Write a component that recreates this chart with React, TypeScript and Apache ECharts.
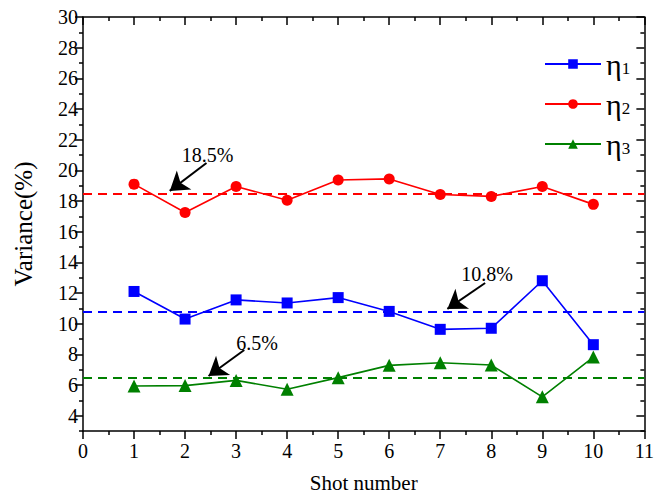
import React, { useEffect, useRef } from "react";
import * as echarts from "echarts";

const shots = [1, 2, 3, 4, 5, 6, 7, 8, 9, 10];
const eta1 = [12.1, 10.3, 11.55, 11.35, 11.7, 10.8, 9.63, 9.7, 12.8, 8.63];
const eta2 = [19.1, 17.25, 18.95, 18.05, 19.37, 19.44, 18.42, 18.3, 18.95, 17.78];
const eta3 = [5.93, 5.96, 6.3, 5.72, 6.48, 7.28, 7.45, 7.3, 5.23, 7.82];
const means = [10.8, 18.5, 6.5];
const yMajor = [4, 6, 8, 10, 12, 14, 16, 18, 20, 22, 24, 26, 28, 30];
const yMinor = [3, 5, 7, 9, 11, 13, 15, 17, 19, 21, 23, 25, 27, 29];
const names = ["η1", "η2", "η3"];
const colors = ["#0000ff", "#ff0000", "#008000"];
const symbols = ["rect", "circle", "triangle"];
// annotation: label text, label position, arrow start, arrow end (data coords)
const annotText = ["10.8%", "18.5%", "6.5%"];
const annotLabelAt = [[7.92, 13.25], [2.44, 21.0], [3.41, 8.75]];
const annotFrom = [[7.88, 12.65], [2.42, 20.48], [3.16, 8.28]];
const annotTo = [[7.14, 10.96], [1.7, 18.66], [2.46, 6.59]];

const FONT = "Liberation Serif";
const CSS =
  "body{margin:0}#eroot text,#eroot tspan{font-family:'Liberation Serif','Times New Roman',serif !important;}";

export default function App() {
  const ref = useRef<HTMLDivElement>(null);
  useEffect(() => {
    document.body.style.margin = "0";
    const chart = echarts.init(ref.current!, null, { renderer: "svg" });
    const seriesData = [eta1, eta2, eta3];
    const series = seriesData.map((d, i) => ({
      name: names[i],
      type: "line",
      data: shots.map((s, j) => [s, d[j]]),
      symbol: symbols[i],
      symbolSize: i === 2 ? 13 : 11,
      itemStyle: { color: colors[i] },
      lineStyle: { color: colors[i], width: 1.6 },
      markLine: {
        silent: true,
        animation: false,
        symbol: ["none", "arrow"],
        symbolSize: 18,
        label: { show: false },
        data: [
          [
            { xAxis: 0, yAxis: means[i], symbol: "none", lineStyle: { color: colors[i], width: 1.8, type: [9, 6] } },
            { xAxis: 11, yAxis: means[i], symbol: "none" },
          ],
          [
            { coord: annotFrom[i], symbol: "none", lineStyle: { color: "#000", width: 2, type: "solid" } },
            { coord: annotTo[i], symbol: "arrow", symbolSize: 18, itemStyle: { color: "#000" } },
          ],
        ],
      },
      markPoint: {
        silent: true,
        animation: false,
        symbol: "rect",
        symbolSize: 1,
        itemStyle: { color: "rgba(0,0,0,0)" },
        label: {
          show: true,
          position: "inside",
          color: "#000",
          fontFamily: FONT,
          fontSize: 20,
          formatter: annotText[i],
        },
        data: [{ coord: annotLabelAt[i], value: annotText[i] }],
      },
    }));

    const axisLine = { show: true, lineStyle: { color: "#000", width: 1.5 } };
    const labelStyle = { color: "#000", fontFamily: FONT, fontSize: 20 };

    chart.setOption({
      animation: false,
      backgroundColor: "#fff",
      textStyle: { fontFamily: FONT },
      grid: { left: 83, right: 10, top: 17, bottom: 69 },
      legend: {
        data: names,
        orient: "vertical",
        left: 539,
        top: 44,
        itemWidth: 56,
        itemHeight: 12,
        itemGap: 10,
        formatter: (n: string) => `{e|η}{s|${n.slice(1)}}`,
        textStyle: {
          color: "#000",
          fontFamily: FONT,
          rich: {
            e: { fontFamily: FONT, fontSize: 30, color: "#000" },
            s: { fontFamily: FONT, fontSize: 17, color: "#000", padding: [8, 0, 0, 0] },
          },
        },
      },
      xAxis: [
        {
          type: "value",
          min: 0,
          max: 11,
          interval: 1,
          position: "bottom",
          name: "Shot number",
          nameLocation: "middle",
          nameGap: 41,
          nameTextStyle: { color: "#000", fontFamily: FONT, fontSize: 21 },
          axisLine,
          axisTick: { show: true, inside: false, length: 8, lineStyle: { color: "#000", width: 1.5 } },
          minorTick: { show: true, splitNumber: 2, length: 4, lineStyle: { color: "#000", width: 1.5 } },
          axisLabel: { ...labelStyle, margin: 10 },
          splitLine: { show: false },
        },
        {
          type: "value",
          min: 0,
          max: 11,
          interval: 1,
          position: "top",
          axisLine,
          axisTick: { show: true, inside: true, length: 8, lineStyle: { color: "#000", width: 1.5 } },
          minorTick: { show: true, splitNumber: 2, length: 4, lineStyle: { color: "#000", width: 1.5 } },
          axisLabel: { show: false },
          splitLine: { show: false },
        },
      ],
      yAxis: [
        {
          type: "value",
          min: 3,
          max: 30,
          position: "left",
          name: "Variance(%)",
          nameLocation: "middle",
          nameGap: 47,
          nameTextStyle: { color: "#000", fontFamily: FONT, fontSize: 25 },
          axisLine,
          axisTick: { show: true, inside: false, length: 8, customValues: yMajor, lineStyle: { color: "#000", width: 1.5 } },
          axisLabel: { ...labelStyle, margin: 5, customValues: yMajor },
          splitLine: { show: false },
        },
        {
          type: "value",
          min: 3,
          max: 30,
          position: "left",
          axisLine: { show: false },
          axisTick: { show: true, inside: false, length: 4, customValues: yMinor, lineStyle: { color: "#000", width: 1.5 } },
          axisLabel: { show: false },
          splitLine: { show: false },
        },
        {
          type: "value",
          min: 3,
          max: 30,
          position: "right",
          axisLine,
          axisTick: { show: true, inside: true, length: 8, customValues: yMajor, lineStyle: { color: "#000", width: 1.5 } },
          axisLabel: { show: false },
          splitLine: { show: false },
        },
        {
          type: "value",
          min: 3,
          max: 30,
          position: "right",
          axisLine: { show: false },
          axisTick: { show: true, inside: true, length: 4, customValues: yMinor, lineStyle: { color: "#000", width: 1.5 } },
          axisLabel: { show: false },
          splitLine: { show: false },
        },
      ],
      series,
    });
    return () => chart.dispose();
  }, []);
  return (
    <>
      <style>{CSS}</style>
      <div id="eroot" ref={ref} style={{ width: 657, height: 500 }} />
    </>
  );
}
